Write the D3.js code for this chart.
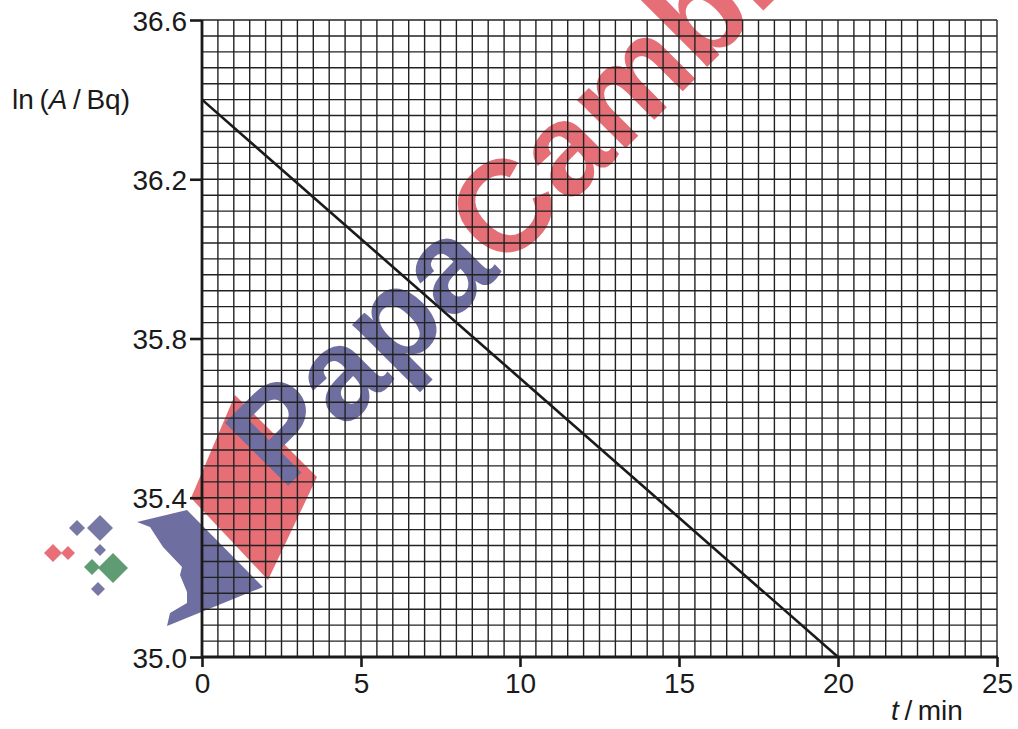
<!DOCTYPE html>
<html>
<head>
<meta charset="utf-8">
<script src="https://cdn.jsdelivr.net/npm/d3@7"></script>
<style>
body { margin: 0; background: #fff; }
svg { display: block; font-family: "Liberation Sans", Arial, sans-serif; }
</style>
</head>
<body>
<div id="chart"></div>
<script>
// data
var tValues = [0, 20];          // t / min
var lnAValues = [36.4, 35.0];   // ln(A / Bq)
var xTicks = [0, 5, 10, 15, 20, 25];
var yTicks = [35.0, 35.4, 35.8, 36.2, 36.6];

var W = 1018, H = 729;
var margin = {top: 20, right: 21, bottom: 72, left: 202},
    width = W - margin.left - margin.right,
    height = H - margin.top - margin.bottom;

var x = d3.scaleLinear().domain([0, 25]).range([0, width]);
var y = d3.scaleLinear().domain([35.0, 36.6]).range([height, 0]);

var svg = d3.select("#chart").append("svg")
    .attr("width", W).attr("height", H);

// watermark (drawn under the grid)
var wm = svg.append("g").attr("class", "watermark");
wm.append("polygon")
    .attr("points", "191,498 235,395 317,477 268,580")
    .attr("fill", "rgb(230,110,116)");
wm.append("polygon")
    .attr("points", "137,522 187,510 263,587 167,626 170,613 187,603 187,592 180,575 182,567 163,547 150,527")
    .attr("fill", "rgb(110,110,160)");
var diamonds = [
  [77, 528, 8, "rgb(120,120,165)"], [100, 528, 13, "rgb(120,120,165)"],
  [100, 550, 6, "rgb(120,120,165)"], [53, 553, 9, "rgb(232,110,120)"],
  [68, 553, 7, "rgb(232,110,120)"], [92, 567, 8, "rgb(95,155,115)"],
  [113, 568, 15, "rgb(95,155,115)"], [98, 589, 7, "rgb(120,120,165)"]
];
wm.selectAll("path.dia").data(diamonds).enter().append("path")
    .attr("class", "dia")
    .attr("d", function(d) {
      return "M" + d[0] + "," + (d[1] - d[2]) + "L" + (d[0] + d[2]) + "," + d[1] +
             "L" + d[0] + "," + (d[1] + d[2]) + "L" + (d[0] - d[2]) + "," + d[1] + "Z";
    })
    .attr("fill", function(d) { return d[3]; });
var wmText = wm.append("text")
    .attr("transform", "translate(282,492) rotate(-45)")
    .attr("font-size", 130).attr("font-weight", "bold");
wmText.append("tspan").attr("fill", "rgb(110,110,160)").text("Papa");
wmText.append("tspan").attr("fill", "rgb(230,110,118)").text("Cambridge");

var g = svg.append("g")
    .attr("transform", "translate(" + margin.left + "," + margin.top + ")");

// grid, 0.5 min by 0.04
var gridX = d3.range(0, 25.001, 0.5);
var gridY = d3.range(0, 40.5, 1).map(function(i) { return 35.0 + i * 0.04; });

g.append("g").selectAll("line").data(gridX).enter().append("line")
    .attr("x1", function(d) { return x(d); }).attr("x2", function(d) { return x(d); })
    .attr("y1", 0).attr("y2", height)
    .attr("stroke", "#222").attr("stroke-width", 1.4);
g.append("g").selectAll("line").data(gridY).enter().append("line")
    .attr("y1", function(d) { return y(d); }).attr("y2", function(d) { return y(d); })
    .attr("x1", 0).attr("x2", width)
    .attr("stroke", "#222").attr("stroke-width", 1.4);

// the line
var line = d3.line()
    .x(function(d) { return x(d[0]); })
    .y(function(d) { return y(d[1]); });
g.append("path")
    .datum(d3.zip(tValues, lnAValues))
    .attr("d", line)
    .attr("fill", "none").attr("stroke", "#1a1a1a").attr("stroke-width", 2.6);

// axes
var xAxis = d3.axisBottom(x).tickValues(xTicks).tickSize(10).tickPadding(6)
    .tickFormat(d3.format("d"));
var yAxis = d3.axisLeft(y).tickValues(yTicks).tickSize(12).tickPadding(3)
    .tickFormat(d3.format(".1f"));

var gx = g.append("g").attr("transform", "translate(0," + height + ")").call(xAxis);
var gy = g.append("g").call(yAxis);

[gx, gy].forEach(function(a) {
  a.select(".domain").remove();
  a.selectAll(".tick line").attr("stroke", "#1a1a1a").attr("stroke-width", 2.6);
  a.selectAll(".tick text").attr("fill", "#1a1a1a")
    .style("font-family", "'Liberation Sans', Arial, sans-serif").style("font-size", "28px");
});
gy.selectAll(".tick text").attr("dy", "0.36em");

g.append("line").attr("x1", 0).attr("x2", 0).attr("y1", 0).attr("y2", height + 1)
    .attr("stroke", "#1a1a1a").attr("stroke-width", 2.8);
g.append("line").attr("x1", -1).attr("x2", width + 1).attr("y1", height).attr("y2", height)
    .attr("stroke", "#1a1a1a").attr("stroke-width", 2.8);

// axis titles
var yl = svg.append("text").attr("x", 12).attr("y", 109)
    .attr("font-size", 28).attr("fill", "#1a1a1a");
yl.append("tspan").text("ln\u2009(");
yl.append("tspan").attr("font-style", "italic").text("A");
yl.append("tspan").text("\u2009/\u2009Bq)");

var xl = svg.append("text").attr("x", 891).attr("y", 720)
    .attr("font-size", 28).attr("fill", "#1a1a1a");
xl.append("tspan").attr("font-style", "italic").text("t");
xl.append("tspan").text("\u2009/\u2009min");
</script>
</body>
</html>
